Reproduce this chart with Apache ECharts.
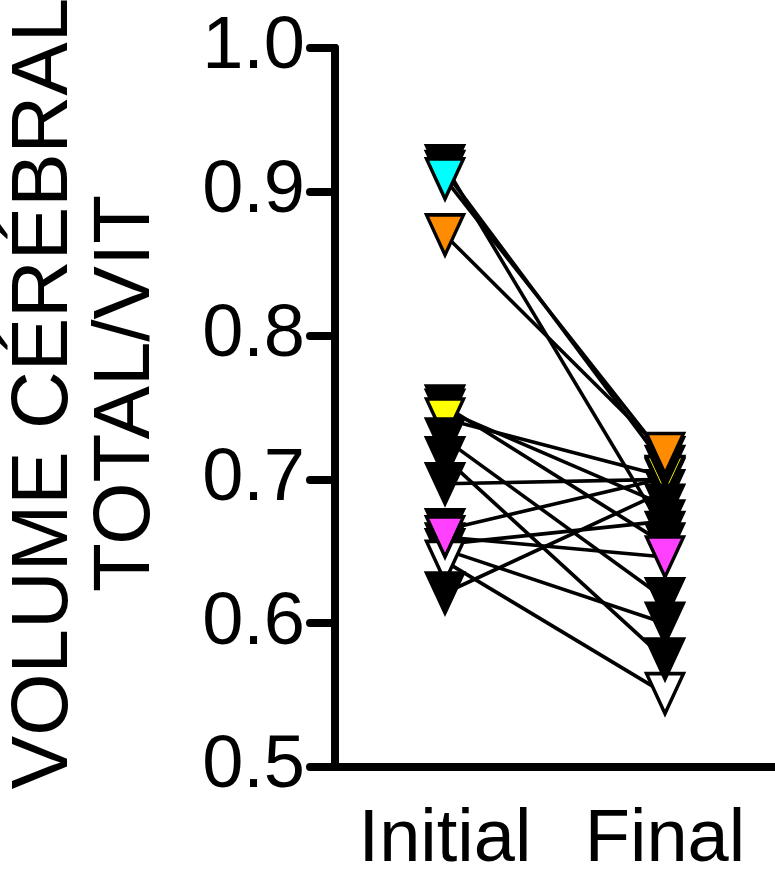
<!DOCTYPE html>
<html>
<head>
<meta charset="utf-8">
<script src="https://cdn.jsdelivr.net/npm/echarts@6/dist/echarts.min.js"></script>
<style>
html,body{margin:0;padding:0;background:#fff;}
#chart{width:775px;height:870px;}
</style>
</head>
<body>
<div id="chart"></div>
<script>
var categories = ['Initial', 'Final'];
var yTicks = [0.5, 0.6, 0.7, 0.8, 0.9, 1.0];
var initialValues = [0.918, 0.914, 0.909, 0.870, 0.751, 0.748, 0.742, 0.728, 0.715, 0.697, 0.665, 0.660, 0.655, 0.651, 0.643, 0.621];
var finalValues   = [0.663, 0.709, 0.715, 0.718, 0.655, 0.682, 0.702, 0.617, 0.575, 0.700, 0.701, 0.646, 0.671, 0.600, 0.551, 0.692];
var subjectColors = ['#000000', '#000000', '#00ffff', '#ff8c00', '#000000', '#000000', '#ffff00', '#000000', '#000000', '#000000', '#000000', '#ff40ff', '#000000', '#000000', '#ffffff', '#000000'];
// drawing order of the markers (later ones are drawn on top)
var initialDrawOrder = [0, 1, 2, 3, 4, 5, 6, 7, 8, 9, 10, 12, 13, 14, 11, 15];
var finalDrawOrder = [2, 10, 9, 15, 6, 1, 3, 5, 12, 0, 4, 11, 7, 13, 14, 8];
var yTitle = 'VOLUME CÉRÉBRAL\nTOTAL/VIT';

var chart = echarts.init(document.getElementById('chart'), null, {renderer: 'canvas'});

var series = [];
for (var i = 0; i < initialValues.length; i++) {
  series.push({
    type: 'line',
    data: [initialValues[i], finalValues[i]],
    showSymbol: false,
    symbol: 'none',
    lineStyle: {color: '#000', width: 3.6},
    z: 2,
    silent: true,
    animation: false
  });
}
var pts = [];
for (var j = 0; j < initialDrawOrder.length; j++) {
  var a = initialDrawOrder[j];
  pts.push({value: [0, initialValues[a]], itemStyle: {color: subjectColors[a]}});
}
for (var k = 0; k < finalDrawOrder.length; k++) {
  var s = finalDrawOrder[k];
  pts.push({value: [1, finalValues[s]], itemStyle: {color: subjectColors[s]}});
}
series.push({
  type: 'scatter',
  data: pts,
  symbol: 'triangle',
  symbolRotate: 180,
  symbolSize: [37, 40],
  itemStyle: {borderColor: '#000', borderWidth: 3.5, opacity: 1},
  z: 5,
  silent: true,
  animation: false
});

var labelFont = "'Liberation Sans', Arial, sans-serif";
chart.setOption({
  animation: false,
  backgroundColor: '#fff',
  grid: {left: 335, right: 0, top: 48, bottom: 103, containLabel: false, outerBoundsMode: 'none'},
  xAxis: {
    type: 'category',
    data: categories,
    boundaryGap: true,
    axisLine: {lineStyle: {color: '#000', width: 8, cap: 'round'}},
    axisTick: {alignWithLabel: true, length: 26, lineStyle: {color: '#000', width: 8, cap: 'round'}},
    axisLabel: {color: '#000', fontSize: 74, fontFamily: labelFont, margin: 37, hideOverlap: false, interval: 0}
  },
  yAxis: {
    type: 'value',
    min: 0.5,
    max: 1.0,
    interval: 0.1,
    splitLine: {show: false},
    axisLine: {show: true, lineStyle: {color: '#000', width: 8, cap: 'round'}},
    axisTick: {show: true, length: 25, lineStyle: {color: '#000', width: 8, cap: 'round'}},
    axisLabel: {color: '#000', fontSize: 74, fontFamily: labelFont, margin: 30,
      formatter: function (v) { return v.toFixed(1); }},
    name: yTitle,
    nameLocation: 'middle',
    nameGap: 167,
    nameMoveOverlap: false,
    nameTextStyle: {color: '#000', fontSize: 80, lineHeight: 82, fontFamily: labelFont, padding: [0, 0, 0, 28]}
  },
  series: series
});
</script>
</body>
</html>
